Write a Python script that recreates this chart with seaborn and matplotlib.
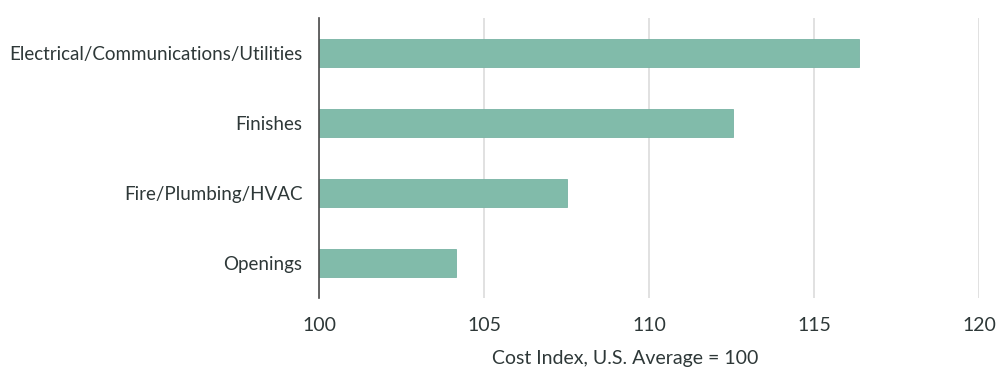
import numpy as np
import pandas as pd
import matplotlib
matplotlib.use("Agg")
import matplotlib.pyplot as plt
import seaborn as sns

categories = ["Electrical/Communications/Utilities", "Finishes", "Fire/Plumbing/HVAC", "Openings"]
values = [116.35, 112.55, 107.5, 104.15]
x_ticks = [100, 105, 110, 115, 120]
x_label = "Cost Index, U.S. Average = 100"

sns.set_theme(style="white")
plt.rcParams["font.family"] = ["Lato", "DejaVu Sans"]

df = pd.DataFrame({"Category": categories, "Value": values})
text_color = "#2e3838"

fig = plt.figure(figsize=(10, 3.77), dpi=100)
ax = fig.add_axes([0.319, 1 - 298 / 377, 0.66, 280 / 377])

ax.grid(axis="x", color="#dcdcdc", linewidth=1.2)
ax.set_axisbelow(True)
sns.barplot(data=df, x="Value", y="Category", orient="h", color="#81bbaa",
            saturation=1, width=0.4, ax=ax, edgecolor="#78b3a3", linewidth=0.6)
# bars start at the 100 baseline
for p in ax.patches:
    w = p.get_width()
    p.set_x(100)
    p.set_width(w - 100)

ax.set_xlim(100, 120)
ax.set_ylim(3.5, -0.5)
ax.set_xticks(x_ticks)
ax.tick_params(axis="x", length=0, labelsize=14, colors=text_color, pad=14)
ax.tick_params(axis="y", length=0, labelsize=13.5, colors=text_color, pad=12)
ax.set_ylabel("")
ax.set_xlabel(x_label, fontsize=14, color=text_color)
ax.xaxis.set_label_coords(0.464, -0.185)

for s in ["top", "right", "bottom"]:
    ax.spines[s].set_visible(False)
ax.spines["left"].set_color("#4a4a4a")
ax.spines["left"].set_linewidth(1.2)

fig.savefig("out.png", dpi=100)
plt.close()
